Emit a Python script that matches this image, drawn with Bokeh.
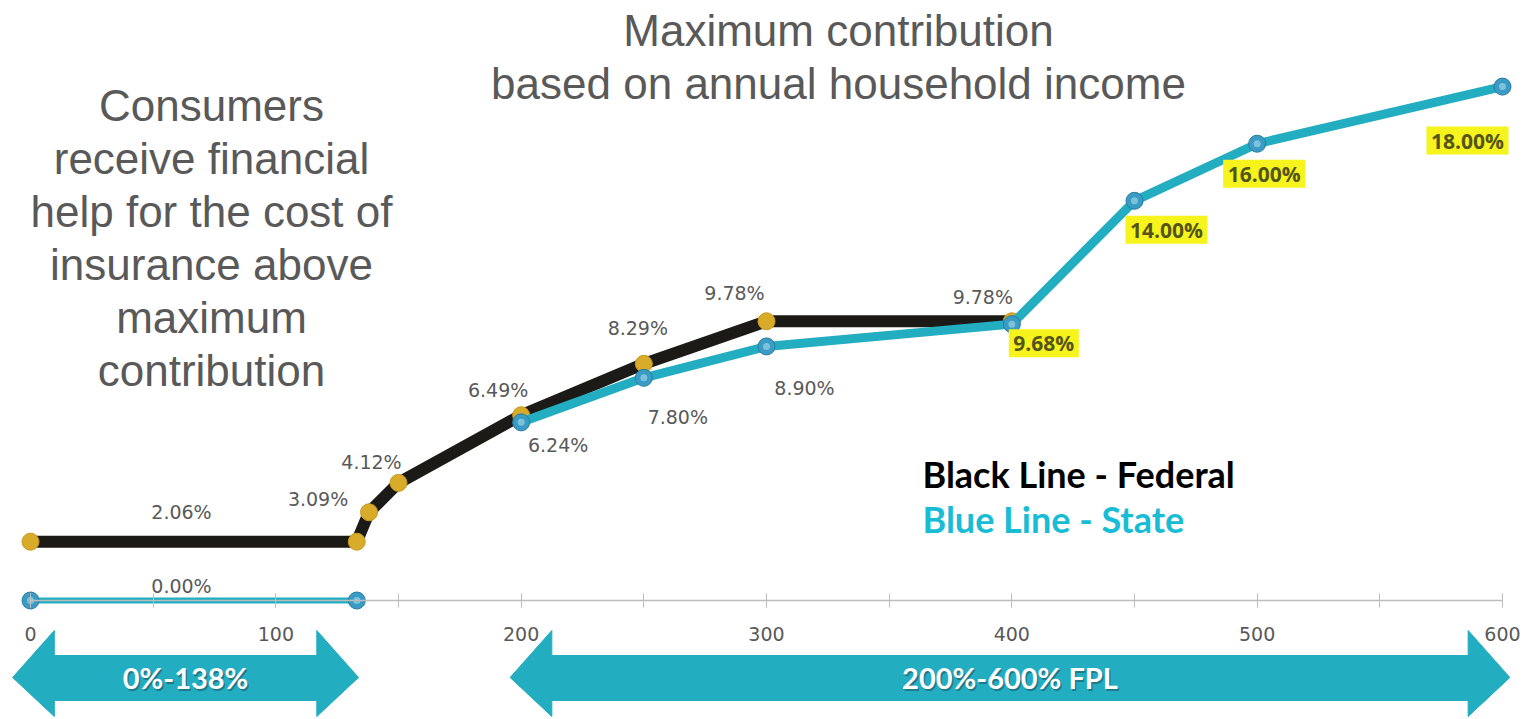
from bokeh.plotting import figure
from bokeh.models import (ColumnDataSource, LabelSet, Label, LinearAxis,
                          SingleIntervalTicker, Range1d)
from bokeh.core.properties import value
from bokeh.embed import file_html
from bokeh.resources import INLINE

# ---------------- data ----------------
fed_fpl = [0, 133, 138, 150, 200, 250, 300, 400]
fed_pct = [2.06, 2.06, 3.09, 4.12, 6.49, 8.29, 9.78, 9.78]

state_fpl_low = [0, 133]
state_pct_low = [0.00, 0.00]
state_fpl_high = [200, 250, 300, 400, 450, 500, 600]
state_pct_high = [6.24, 7.80, 8.90, 9.68, 14.00, 16.00, 18.00]

band_start = [0, 200]
band_end = [138, 600]
band_text = ["0%-138%", "200%-600% FPL"]

title_lines = ["Maximum contribution", "based on annual household income"]
note_lines = ["Consumers", "receive financial", "help for the cost of",
              "insurance above", "maximum", "contribution"]

# ---------------- layout constants ----------------
W, H = 1528, 719
X0, X1 = -12.23, 610.6
Y0, Y1 = -4.168, 21.016
PX_X = W / (X1 - X0)
PX_Y = H / (Y1 - Y0)
TXT_SHIFT = 16  # baseline correction in screen px

GRAY = "#595959"
TEAL = "#22adc1"
GOLD = "#d8ac2a"

p = figure(width=W, height=H, x_range=Range1d(X0, X1), y_range=Range1d(Y0, Y1),
           output_backend="svg", toolbar_location=None,
           x_axis_location=None, y_axis_location=None, min_border=0)
p.grid.visible = False
p.outline_line_color = None
p.background_fill_color = "white"

axis = LinearAxis(fixed_location=0, bounds=(0, 600),
                  ticker=SingleIntervalTicker(interval=100, num_minor_ticks=2))
axis.axis_line_color = "#bdbdbd"
axis.axis_line_width = 1.5
axis.major_tick_line_color = "#bdbdbd"
axis.minor_tick_line_color = "#bdbdbd"
axis.major_tick_in = 7
axis.major_tick_out = 7
axis.minor_tick_in = 7
axis.minor_tick_out = 7
axis.major_label_standoff = 19
axis.major_label_text_font = "DejaVu Sans"
axis.major_label_text_font_size = "19px"
axis.major_label_text_color = GRAY
p.add_layout(axis, "below")

# ---------------- band arrows ----------------
head = 17.0
yc = -77 / PX_Y
y_ht, y_hb = -30 / PX_Y, -116 / PX_Y
y_bt, y_bb = -55 / PX_Y, -100 / PX_Y
pad_l = [-7.3, -4.5]
pad_r = [-4.3, 3.0]
xs, ys = [], []
for a, b, pl, pr in zip(band_start, band_end, pad_l, pad_r):
    a2, b2 = a + pl, b + pr
    xs.append([a2, a2 + head, a2 + head, b2 - head, b2 - head, b2,
               b2 - head, b2 - head, a2 + head, a2 + head])
    ys.append([yc, y_ht, y_bt, y_bt, y_ht, yc, y_hb, y_bb, y_bb, y_hb])
p.patches(xs, ys, fill_color=TEAL, line_color=TEAL)

for a, b, pl, pr, t in zip(band_start, band_end, pad_l, pad_r, band_text):
    cx = (a + pl + b + pr) / 2
    p.add_layout(Label(x=cx, y=yc, text=t, x_offset=1.5, y_offset=-1.5,
                       text_align="center", text_baseline="middle",
                       text_font="Lato", text_font_style="bold",
                       text_font_size="29px", text_color="#1d6470", text_alpha=0.7))
    p.add_layout(Label(x=cx, y=yc, text=t,
                       text_align="center", text_baseline="middle",
                       text_font="Lato", text_font_style="bold",
                       text_font_size="29px", text_color="white"))

# ---------------- lines & markers ----------------
p.line(fed_fpl, fed_pct, line_color="#1b1a16", line_width=12, line_join="round")
p.scatter(fed_fpl, fed_pct, size=17, fill_color=GOLD, line_color="#c99a1c", line_width=1)

p.line(state_fpl_low, state_pct_low, line_color=TEAL, line_width=6)
p.line(state_fpl_high, state_pct_high, line_color=TEAL, line_width=9, line_join="round")
sx = state_fpl_low + state_fpl_high
sy = state_pct_low + state_pct_high
p.scatter(sx, sy, size=17, fill_color="#3a9cc4", line_color="#2a7ba0", line_width=1)
p.scatter(sx, sy, size=7, fill_color="#a9dcef", line_color=None, fill_alpha=0.6)

# ---------------- data labels ----------------
# offsets in screen pixels (right, up)
fed_off = {0: (151, 30), 2: (-51, 13), 3: (-27, 21), 4: (-23, 25),
           5: (-6, 36), 6: (-32, 28), 7: (-29, 24)}
fed_idx = sorted(fed_off)
fed_src = ColumnDataSource(dict(
    x=[fed_fpl[i] for i in fed_idx], y=[fed_pct[i] for i in fed_idx],
    t=[f"{fed_pct[i]:.2f}%" for i in fed_idx],
    xo=[fed_off[i][0] for i in fed_idx], yo=[fed_off[i][1] for i in fed_idx]))
p.add_layout(LabelSet(x="x", y="y", text="t", x_offset="xo", y_offset="yo",
                      source=fed_src, text_align="center", text_baseline="middle",
                      text_font=value("DejaVu Sans"), text_font_size="19px",
                      text_color=GRAY))

st_plain_off = {0: (151, 15), 2: (37, -23), 3: (34, -39), 4: (38, -42)}
st_hl_off = {5: (32, -19), 6: (32, -29), 7: (7, -30), 8: (-35, -54)}

idx = sorted(st_plain_off)
p.add_layout(LabelSet(
    x="x", y="y", text="t", x_offset="xo", y_offset="yo",
    source=ColumnDataSource(dict(
        x=[sx[i] for i in idx], y=[sy[i] for i in idx],
        t=[f"{sy[i]:.2f}%" for i in idx],
        xo=[st_plain_off[i][0] for i in idx], yo=[st_plain_off[i][1] for i in idx])),
    text_align="center", text_baseline="middle", text_font=value("DejaVu Sans"),
    text_font_size="19px", text_color=GRAY))

# highlighted labels: yellow box + bold text, placed at point + pixel offset
idx = sorted(st_hl_off)
hl_txt = [f"{sy[i]:.2f}%" for i in idx]
hl_src = ColumnDataSource(dict(
    x=[sx[i] + st_hl_off[i][0] / PX_X for i in idx],
    y=[sy[i] + st_hl_off[i][1] / PX_Y for i in idx],
    t=hl_txt,
    w=[12 * len(t) + 10 for t in hl_txt]))
p.rect(x="x", y="y", width="w", height=28, width_units="screen",
       height_units="screen", source=hl_src, fill_color="#f6f41c",
       line_color=None)
p.add_layout(LabelSet(x="x", y="y", text="t", source=hl_src,
                      text_align="center", text_baseline="middle",
                      text_font=value("Open Sans"), text_font_style="bold",
                      text_font_size="21px", text_color="#55551a"))

# ---------------- annotation texts ----------------
for i, line in enumerate(title_lines):
    p.add_layout(Label(x=838, y=H - 46 - 53 * i + TXT_SHIFT, x_units="screen",
                       y_units="screen", text=line, text_align="center",
                       text_baseline="alphabetic", text_font="Liberation Sans",
                       text_font_size="44px", text_color=GRAY))
for i, line in enumerate(note_lines):
    p.add_layout(Label(x=211, y=H - 121 - 53 * i + TXT_SHIFT, x_units="screen",
                       y_units="screen", text=line, text_align="center",
                       text_baseline="alphabetic", text_font="Liberation Sans",
                       text_font_size="44px", text_color=GRAY))

p.add_layout(Label(x=922, y=H - 487 + 14, x_units="screen", y_units="screen",
                   text="Black Line - Federal", text_baseline="alphabetic",
                   text_font="Lato", text_font_style="bold", text_font_size="36px",
                   text_color="black"))
p.add_layout(Label(x=922, y=H - 532 + 14, x_units="screen", y_units="screen",
                   text="Blue Line - State", text_baseline="alphabetic",
                   text_font="Lato", text_font_style="bold", text_font_size="36px",
                   text_color="#18bcd5"))

open("out.html", "w").write(file_html(p, INLINE))
